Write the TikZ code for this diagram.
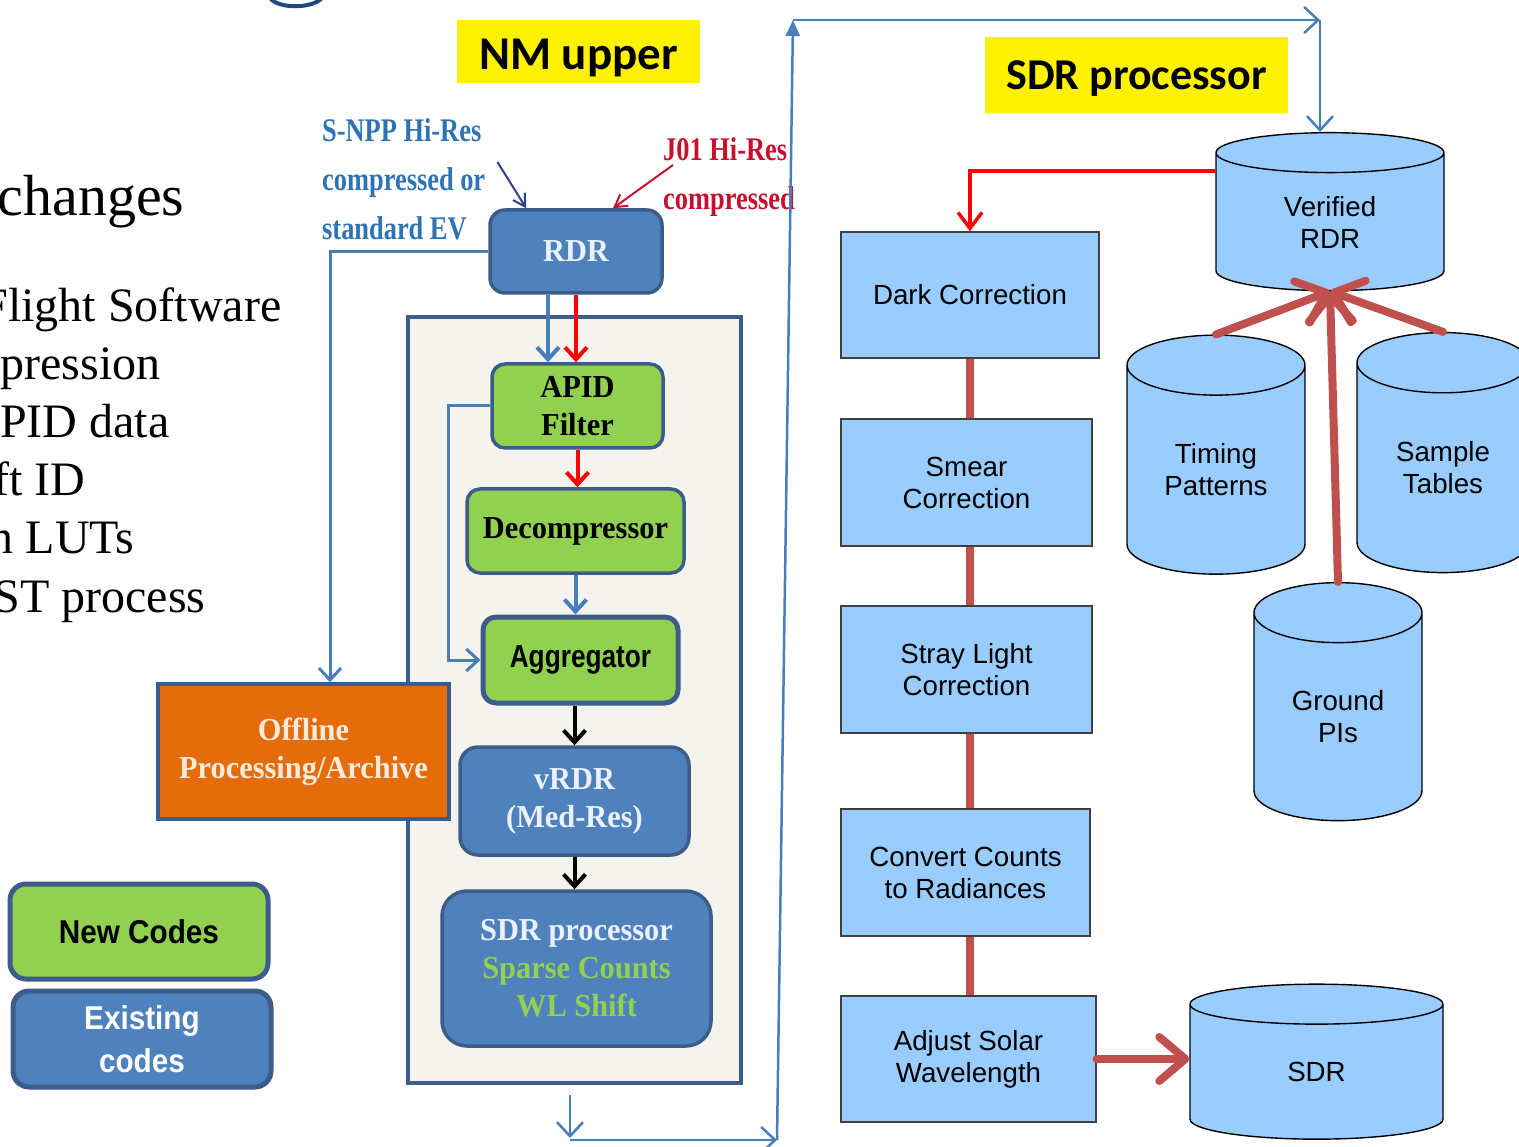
\documentclass[tikz,border=0pt]{standalone}
\usepackage{fontspec}
\setmainfont{Liberation Serif}
\setsansfont{Liberation Sans}
\newfontfamily\boxserif[FakeStretch=0.95]{Liberation Serif}
\newfontfamily\noteserif[FakeStretch=0.8]{Liberation Serif}
\newfontfamily\narrowsans[FakeStretch=0.82]{Liberation Sans}
\newfontfamily\legendsans[FakeStretch=0.9]{Liberation Sans}
\newfontfamily\labelfont{Carlito}
\usepackage{tikz}
\usetikzlibrary{shapes,arrows,positioning,calc,arrows.meta}
\definecolor{codeBlue}{RGB}{79,129,189}
\definecolor{edgeBlue}{RGB}{60,92,138}
\definecolor{newGreen}{RGB}{146,208,80}
\definecolor{offOrange}{RGB}{228,108,10}
\definecolor{panelGrey}{RGB}{245,243,238}
\definecolor{linkBlue}{RGB}{74,126,187}
\definecolor{noteBlue}{RGB}{46,116,181}
\definecolor{noteRed}{RGB}{200,16,46}
\definecolor{arrowNavy}{RGB}{43,63,140}
\definecolor{stepBlue}{RGB}{153,204,255}
\definecolor{flowRed}{RGB}{192,80,77}
\definecolor{titleNavy}{RGB}{31,73,125}
\definecolor{paleText}{RGB}{235,241,250}
\definecolor{creamText}{RGB}{253,234,218}

\tikzset{
  codebox/.style={rounded corners=13pt,draw=edgeBlue,line width=3.5pt,align=center,inner sep=0pt},
  oldcode/.style={codebox,fill=codeBlue,text=paleText,font=\boxserif\bfseries\fontsize{32}{38}\selectfont},
  newcode/.style={codebox,fill=newGreen,text=black,font=\boxserif\bfseries\fontsize{32}{38}\selectfont},
  notetext/.style={align=left,inner sep=0pt,anchor=west,font=\noteserif\bfseries\fontsize{33}{49}\selectfont},
  tag/.style={fill=yellow,inner sep=0pt,text=black},
  stepbox/.style={draw=black!75,line width=1.2pt,fill=stepBlue,align=center,inner sep=0pt,
                  font=\sffamily\fontsize{27.7}{32}\selectfont},
  datastore/.style={cylinder,shape border rotate=90,draw=black,line width=1.4pt,fill=stepBlue,
                  align=center,inner sep=0pt,font=\sffamily\fontsize{27.7}{32}\selectfont},
  bluelink/.style={draw=linkBlue,line width=3pt,-{Straight Barb[length=12pt,width=22pt]}},
  chainlink/.style={draw=linkBlue,line width=4pt,-{Straight Barb[length=12pt,width=22pt]}},
  looplink/.style={draw=linkBlue,line width=2.5pt,-{Straight Barb[length=14pt,width=26pt]}},
  redlink/.style={draw=red,line width=4pt,-{Straight Barb[length=12pt,width=22pt]}},
  blacklink/.style={draw=black,line width=4pt,-{Straight Barb[length=12pt,width=22pt]}},
  flowlink/.style={draw=flowRed,line width=8pt,line cap=round,-{Straight Barb[length=26pt,width=44pt,round]}},
  flowline/.style={draw=flowRed,line width=8pt}
}

\begin{document}
\begin{tikzpicture}[x=1pt,y=-1pt]
\useasboundingbox (0,0) rectangle (1519,1147);

% cropped slide text on the left
\draw[titleNavy,line width=4pt] (270,-2) .. controls (278,9) and (312,9) .. (322,-2);
\node[anchor=base east,font=\fontsize{58}{60}\selectfont] (changes) at (188,216) {changes};
\foreach \txt/\xx/\yy [count=\i] in {Flight Software/285/322,pression/164/380,PID data/173/438,
                                    ft ID/89/496,n LUTs/138/554,ST process/209/612}
  \node[anchor=base east,font=\fontsize{48}{50}\selectfont] (item\i) at (\xx,\yy) {\txt};

% titles
\node[tag,minimum width=243pt,minimum height=63pt,text height=40pt,text depth=3pt,
      font=\labelfont\bfseries\fontsize{47}{50}\selectfont] (nmtag) at (578.5,51.5) {NM upper};
\node[tag,minimum width=303pt,minimum height=76pt,text height=36pt,text depth=6pt,
      font=\labelfont\bfseries\fontsize{44}{48}\selectfont] (sdrtag) at (1136.5,75) {SDR processor};

% NM upper chain
\node[draw=edgeBlue,line width=3.5pt,fill=panelGrey,minimum width=333pt,minimum height=766pt] (panel) at (574.5,700) {};
\node[oldcode,rounded corners=15pt,minimum width=172pt,minimum height=83pt] (rdr) at (576,251.5) {RDR};
\node[newcode,minimum width=171pt,minimum height=84pt] (apid) at (577.5,406) {APID\\Filter};
\node[newcode,minimum width=217pt,minimum height=84pt] (decomp) at (575.5,531) {Decompressor};
\node[newcode,line width=5pt,minimum width=195pt,minimum height=86pt,
      font=\narrowsans\bfseries\fontsize{32}{38}\selectfont] (agg) at (580.5,660) {Aggregator};
\node[oldcode,rounded corners=18pt,minimum width=229pt,minimum height=108pt] (vrdr) at (574.5,801) {vRDR\\(Med-Res)};
\node[oldcode,rounded corners=25pt,minimum width=269pt,minimum height=155pt] (sdrproc) at (576.5,968.5)
  {SDR processor\\\textcolor{newGreen}{Sparse Counts}\\\textcolor{newGreen}{WL Shift}};
\node[draw=edgeBlue,line width=3.5pt,fill=offOrange,text=creamText,align=center,inner sep=0pt,
      font=\boxserif\bfseries\fontsize{32}{38}\selectfont,minimum width=291pt,minimum height=135pt]
  (offline) at (303.5,751.5) {Offline\\Processing/Archive};

% inputs
\node[notetext,text=noteBlue] (snpp) at (322,179) {S-NPP Hi-Res\\compressed or\\standard EV};
\node[notetext,text=noteRed] (j01) at (663,177) {J01 Hi-Res\\compressed};
\draw[arrowNavy,line width=2pt,-{Straight Barb[length=12pt,width=14pt]}]
  ([xshift=12pt,yshift=17pt]snpp.east) -- ([xshift=38pt]rdr.north west);
\draw[noteRed,line width=2pt,-{Straight Barb[length=12pt,width=14pt]}]
  ([xshift=10pt,yshift=12pt]j01.west) -- ([xshift=37pt]rdr.north);

% legend
\node[newcode,line width=5pt,rounded corners=16pt,minimum width=258pt,minimum height=95pt,
      font=\legendsans\bfseries\fontsize{33}{43}\selectfont] (legnew) at (139,931.5) {New Codes};
\node[oldcode,line width=5pt,rounded corners=16pt,text=white,minimum width=258pt,minimum height=96pt,
      font=\legendsans\bfseries\fontsize{33}{43}\selectfont] (legold) at (142,1039) {Existing\\codes};

% NM upper connectors
\draw[bluelink] (rdr.west) -| ([xshift=26.5pt]offline.north);
\draw[chainlink] ($(rdr.south)+(-28,0)$) -- ($(apid.north)+(-29.5,0)$);
\draw[redlink] (rdr.south) -- (rdr.south |- apid.north);
\draw[bluelink] (apid.west) -- ++(-42,0) |- (agg.west);
\draw[redlink] (apid.south) -- (apid.south |- decomp.north);
\draw[chainlink] (decomp.south) -- (decomp.south |- agg.north);
\draw[blacklink] (vrdr.north |- agg.south) -- (vrdr.north);
\draw[blacklink] (vrdr.south) -- (vrdr.south |- sdrproc.north);

% hand-off loop to the SDR processor
\coordinate (loopA) at (570,1140);
\coordinate (loopB) at (777,1140);
\coordinate (loopC) at (793,20);
\coordinate (loopD) at (1320,20);
\draw[looplink] ([xshift=-4.5pt,yshift=-10pt]panel.south) -- ([yshift=2pt]loopA);
\draw[looplink] (loopA) -- (loopB);
\draw[draw=linkBlue,line width=2.5pt,-{Triangle[length=16pt,width=14pt]}] (loopB) -- (loopC);
\draw[looplink] (loopC) -- (loopD);

% SDR processor steps
\node[stepbox,minimum width=258pt,minimum height=126pt] (dark) at (970,295) {Dark Correction};
\node[stepbox,minimum width=251pt,minimum height=127pt] (smear) at (966.5,482.5) {Smear\\Correction};
\node[stepbox,minimum width=251pt,minimum height=127pt] (stray) at (966.5,669.5) {Stray Light\\Correction};
\node[stepbox,minimum width=249pt,minimum height=127pt] (convert) at (965.5,872.5) {Convert Counts\\to Radiances};
\node[stepbox,minimum width=255pt,minimum height=126pt] (adjust) at (968.5,1059) {Adjust Solar\\Wavelength};

% data stores
\node[datastore,text width=228pt,minimum height=158pt,shape aspect=0.175] (verified) at (1330,222) {Verified\\RDR};
\node[datastore,text width=178pt,minimum height=239pt,shape aspect=0.337] (timing) at (1216,470) {Timing\\Patterns};
\node[datastore,text width=172pt,minimum height=240pt,shape aspect=0.35] (sample) at (1443,468) {Sample\\Tables};
\node[datastore,text width=168pt,minimum height=238pt,shape aspect=0.357] (ground) at (1338,717) {Ground\\PIs};
\node[datastore,text width=253pt,minimum height=155pt,shape aspect=0.158] (sdr) at (1316.5,1072) {SDR};

% SDR processor connectors
\draw[looplink] (loopD) -- (loopD |- verified.north);
\draw[draw=red,line width=3.5pt,-{Straight Barb[length=16pt,width=24pt]}]
  ([yshift=51pt]verified.west) -| (dark.north);
\foreach \a/\b in {dark/smear,smear/stray,stray/convert,convert/adjust}
  \draw[flowline] (dark.south |- \a.south) -- (dark.south |- \b.north);
\foreach \src in {timing,sample,ground}
  \draw[flowlink] (\src.north) -- (verified.south);
\draw[flowlink] (adjust.east) -- (adjust.east -| sdr.west);
\end{tikzpicture}
\end{document}
